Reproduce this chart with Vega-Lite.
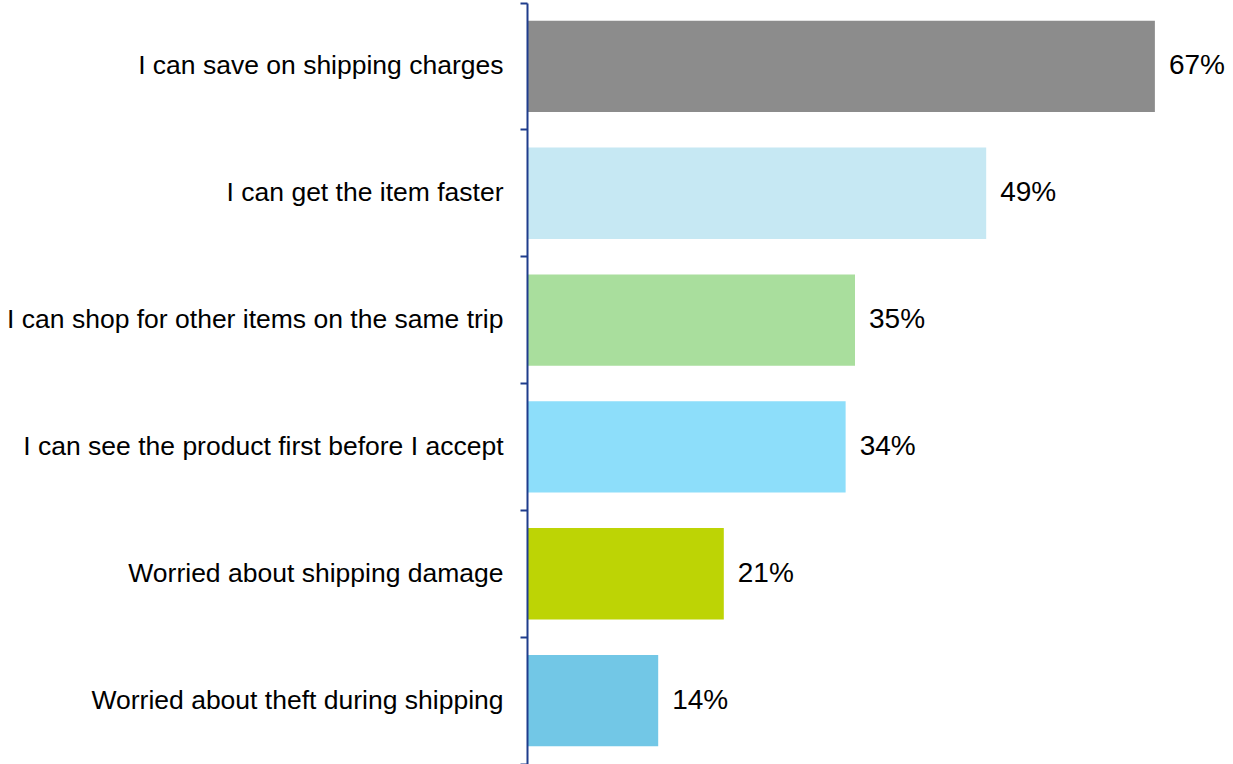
{
  "$schema": "https://vega.github.io/schema/vega-lite/v6.json",
  "width": 656,
  "height": 761,
  "autosize": {"type": "none"},
  "padding": {"left": 527, "top": 3, "right": 50, "bottom": 0},
  "background": "white",
  "config": {"view": {"stroke": null}, "font": "Liberation Sans"},
  "data": {
    "values": [
      {"reason": "I can save on shipping charges", "pct": 0.67, "color": "#8c8c8c"},
      {"reason": "I can get the item faster", "pct": 0.49, "color": "#c6e8f3"},
      {"reason": "I can shop for other items on the same trip", "pct": 0.35, "color": "#a9de9d"},
      {"reason": "I can see the product first before I accept", "pct": 0.34, "color": "#8ddefa"},
      {"reason": "Worried about shipping damage", "pct": 0.21, "color": "#bdd405"},
      {"reason": "Worried about theft during shipping", "pct": 0.14, "color": "#72c7e6"}
    ]
  },
  "encoding": {
    "y": {
      "field": "reason",
      "type": "nominal",
      "sort": null,
      "scale": {"paddingInner": 0, "paddingOuter": 0},
      "axis": {
        "title": null,
        "zindex": 1,
        "domainColor": "#1f3c8c",
        "domainWidth": 2,
        "tickColor": "#1f3c8c",
        "tickWidth": 2,
        "tickSize": 7,
        "bandPosition": 1,
        "tickExtra": true,
        "labelFontSize": 26.5,
        "labelColor": "#000000",
        "labelPadding": 17,
        "labelLimit": 600,
        "labelFont": "Liberation Sans"
      }
    },
    "x": {
      "field": "pct",
      "type": "quantitative",
      "scale": {"domain": [0, 0.7], "nice": false},
      "axis": null
    }
  },
  "layer": [
    {
      "mark": {"type": "bar", "height": {"band": 0.72}},
      "encoding": {"color": {"field": "color", "type": "nominal", "scale": null}}
    },
    {
      "mark": {"type": "text", "align": "left", "baseline": "middle", "dx": 14, "fontSize": 28, "font": "Liberation Sans", "color": "#000000"},
      "encoding": {"text": {"field": "pct", "type": "quantitative", "format": ".0%"}}
    }
  ]
}
